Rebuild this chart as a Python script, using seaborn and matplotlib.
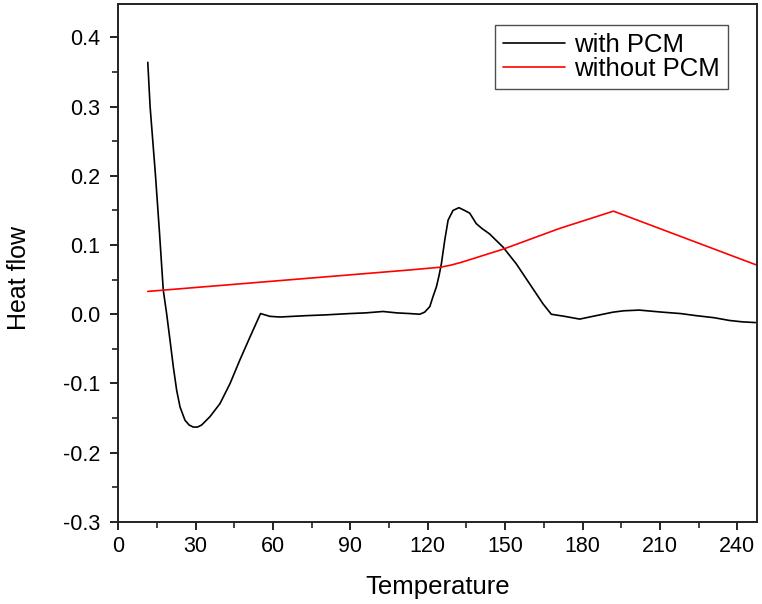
import pandas as pd
import matplotlib.pyplot as plt
import seaborn as sns
import numpy as np

# heat flow
temp_with = [11.5, 12.4, 14.5, 16.0, 17.5, 18.8, 20.1, 21.4, 22.7, 24.0, 25.9, 27.5,
             29.1, 30.8, 32.4, 35.6, 39.5, 43.4, 47.2, 51.1, 55.2, 58.8, 62.7, 73.0,
             80.0, 89.8, 96.0, 102.7, 107.9, 113.0, 116.9, 118.8, 120.8, 122.1, 123.4,
             124.4, 125.3, 126.6, 127.9, 129.8, 132.1, 134.3, 136.3, 138.8, 141.0,
             144.0, 149.2, 154.3, 159.5, 164.7, 167.9, 173.0, 178.9, 185.3, 191.8,
             196.0, 202.0, 211.0, 218.0, 224.0, 231.0, 237.0, 242.0, 247.0]
flow_with = [0.364, 0.30, 0.20, 0.12, 0.035, 0.001, -0.037, -0.076, -0.110, -0.134,
             -0.153, -0.160, -0.163, -0.163, -0.160, -0.148, -0.129, -0.100, -0.066,
             -0.033, 0.001, -0.003, -0.004, -0.002, -0.001, 0.001, 0.002, 0.004, 0.002,
             0.001, 0.000, 0.003, 0.011, 0.026, 0.040, 0.056, 0.073, 0.107, 0.136,
             0.150, 0.154, 0.150, 0.146, 0.131, 0.124, 0.116, 0.097, 0.073, 0.044,
             0.015, 0.000, -0.003, -0.007, -0.002, 0.003, 0.005, 0.006, 0.003, 0.001,
             -0.002, -0.005, -0.009, -0.011, -0.012]

temp_without = [11.5, 113.0, 125.0, 129.0, 133.0, 149.2, 171.1, 192.0, 249.0]
flow_without = [0.033, 0.064, 0.068, 0.071, 0.075, 0.094, 0.124, 0.149, 0.069]

df = pd.concat([
    pd.DataFrame({'Temperature': temp_with, 'Heat flow': flow_with, 'Sample': 'with PCM'}),
    pd.DataFrame({'Temperature': temp_without, 'Heat flow': flow_without, 'Sample': 'without PCM'}),
])

sns.set_style('ticks')
plt.rcParams['font.family'] = ['Liberation Sans', 'DejaVu Sans']
plt.rcParams['text.color'] = 'black'
plt.rcParams['axes.labelcolor'] = 'black'

fig = plt.figure(figsize=(7.62, 6.04), dpi=100)
ax = fig.add_axes([0.155, 0.136, 0.838, 0.857])

sns.lineplot(data=df, x='Temperature', y='Heat flow', hue='Sample', sort=False,
             palette={'with PCM': 'black', 'without PCM': '#ff0000'},
             linewidth=1.2, ax=ax)

ax.set_xlim(0, 247.5)
ax.set_ylim(-0.3, 0.448)
ax.set_xticks(np.arange(0, 241, 30))
ax.set_xticks(np.arange(15, 241, 30), minor=True)
ax.set_yticks(np.arange(-0.3, 0.41, 0.1))
ax.set_yticks(np.arange(-0.25, 0.41, 0.1), minor=True)
ax.set_yticklabels(['%.1f' % v for v in np.arange(-0.3, 0.41, 0.1)])

for s in ax.spines.values():
    s.set_linewidth(1.4)
    s.set_color('#222222')
ax.tick_params(which='major', direction='out', length=6, width=1.4, labelsize=15.5,
               color='#222222', labelcolor='black')
ax.tick_params(which='minor', direction='out', length=4, width=1.2, color='#222222')
ax.tick_params(axis='x', pad=4)
ax.tick_params(axis='y', pad=7)

ax.set_xlabel('Temperature', fontsize=18.5, labelpad=13)
ax.set_ylabel('Heat flow', fontsize=18)
ax.yaxis.set_label_coords(-0.137, 0.471)

leg = ax.legend(loc='upper right', bbox_to_anchor=(0.955, 0.96), fontsize=18.5,
                frameon=True, fancybox=False, handlelength=2.45, handletextpad=0.35,
                borderpad=0.3, labelspacing=0.02, borderaxespad=0)
leg.get_frame().set_edgecolor('#222222')
leg.get_frame().set_linewidth(1.0)

fig.savefig('out.png', dpi=100)
